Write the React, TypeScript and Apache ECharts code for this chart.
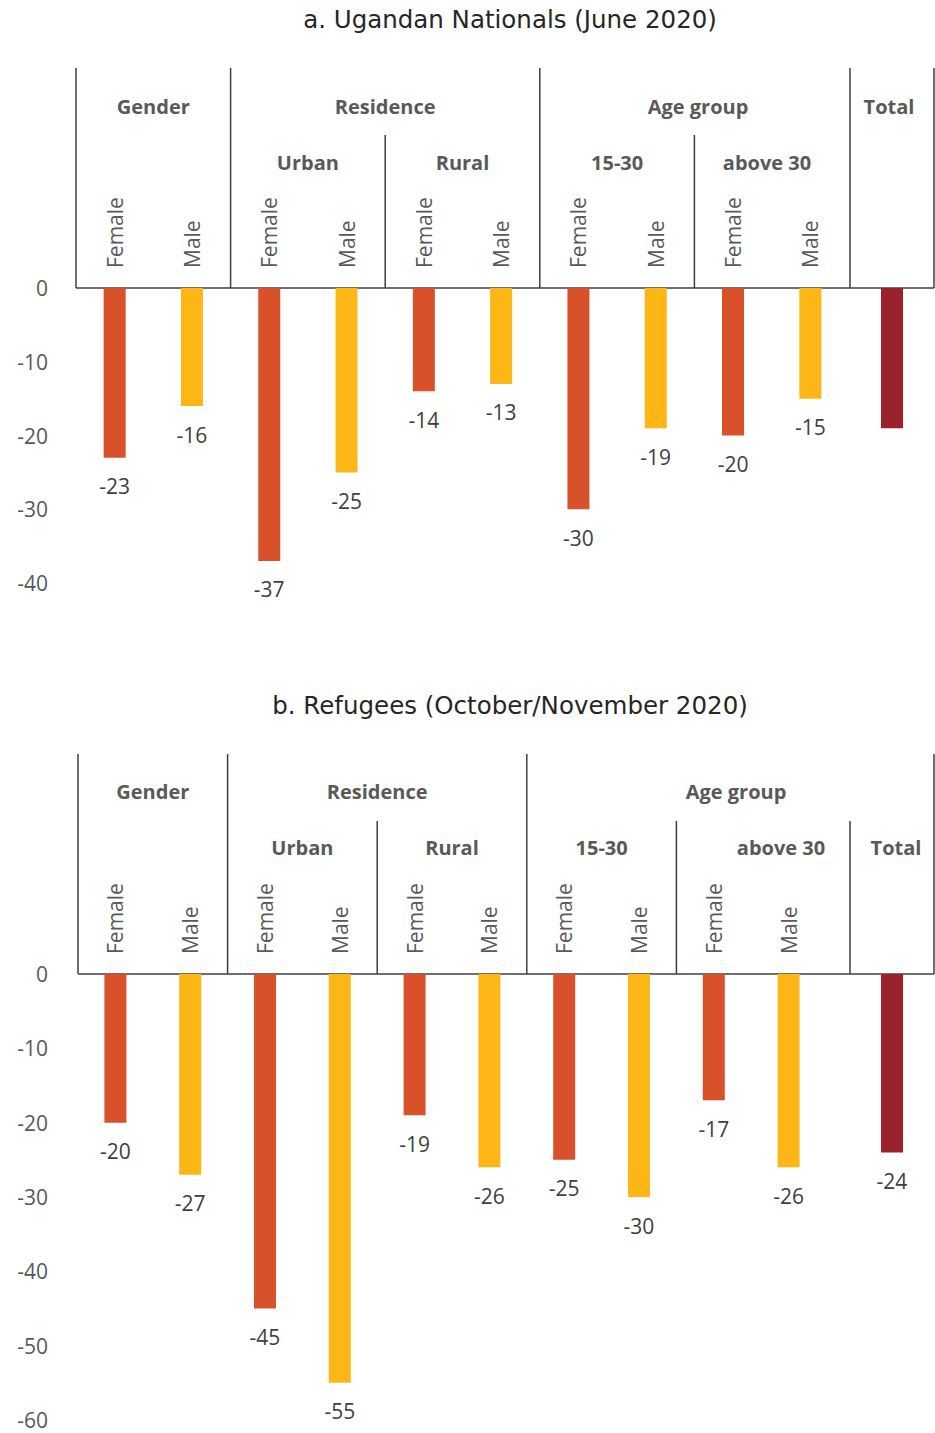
import React, { useEffect, useRef } from "react";
import * as echarts from "echarts";

// Percentage-point changes by sub-group (Female / Male pairs), plus the overall total.
const categoriesA = ["Female", "Male", "Female", "Male", "Female", "Male", "Female", "Male", "Female", "Male"];
const valuesA = [-23, -16, -37, -25, -14, -13, -30, -19, -20, -15];
const totalA = -19;
const ticksA = [0, -10, -20, -30, -40];

const categoriesB = ["Female", "Male", "Female", "Male", "Female", "Male", "Female", "Male", "Female", "Male"];
const valuesB = [-20, -27, -45, -55, -19, -26, -25, -30, -17, -26];
const totalB = -24;
const ticksB = [0, -10, -20, -30, -40, -50, -60];

const titleA = "a. Ugandan Nationals (June 2020)";
const titleB = "b. Refugees (October/November 2020)";
const groupsA = ["Gender", "Residence", "Age group", "Total"];
const subGroupsA = ["Urban", "Rural", "15-30", "above 30"];
const groupsB = ["Gender", "Residence", "Age group"];
const subGroupsB = ["Urban", "Rural", "15-30", "above 30", "Total"];

const FEMALE = "#D9512B";
const MALE = "#FCB616";
const TOTAL = "#9A222B";
const AXIS_TEXT = "#595959";
const LABEL_TEXT = "#404040";
const LINE = "#3f3f3f";
const FONT = "'Open Sans', Roboto, sans-serif";
const TITLE_FONT = "'DejaVu Sans', 'Open Sans', sans-serif";

type Panel = {
  cats: string[];
  values: number[];
  total: number;
  ticks: number[];
  showTotalLabel: boolean;
  left: number;
  slot: number;
  totalLeft: number;
  right: number;
  zeroY: number;
  bottomY: number;
  headTop: number;
  subTop: number;
};

const panelA: Panel = {
  cats: categoriesA, values: valuesA, total: totalA, ticks: ticksA, showTotalLabel: false,
  left: 76, slot: 77.3, totalLeft: 850, right: 934, zeroY: 288, bottomY: 583, headTop: 68, subTop: 135,
};
const panelB: Panel = {
  cats: categoriesB, values: valuesB, total: totalB, ticks: ticksB, showTotalLabel: true,
  left: 78, slot: 74.8, totalLeft: 850, right: 934, zeroY: 974, bottomY: 1420, headTop: 754, subTop: 821,
};

function headerText(text: string, x: number, y: number) {
  return {
    type: "text", x, y, silent: true,
    style: { text, fill: AXIS_TEXT, font: `bold 20px ${FONT}`, textAlign: "center", textVerticalAlign: "middle" },
  };
}
function vline(x: number, y1: number, y2: number) {
  return { type: "line", silent: true, shape: { x1: x, y1, x2: x, y2 }, style: { stroke: LINE, lineWidth: 1.5 } };
}
function hline(x1: number, x2: number, y: number) {
  return { type: "line", silent: true, shape: { x1, y1: y, x2, y2: y }, style: { stroke: LINE, lineWidth: 1.5 } };
}

export default function App() {
  const ref = useRef<HTMLDivElement>(null);

  useEffect(() => {
    if (!ref.current) return;
    const chart = echarts.init(ref.current, undefined, { renderer: "svg" });

    const panels = [panelA, panelB];
    const grid: any[] = [];
    const xAxis: any[] = [];
    const yAxis: any[] = [];
    const series: any[] = [];

    panels.forEach((p, pi) => {
      const height = p.bottomY - p.zeroY;
      const min = Math.min(...p.ticks);
      const max = Math.max(...p.ticks);
      // main grid holding the ten sub-group bars
      grid.push({ left: p.left, top: p.zeroY, width: p.slot * p.cats.length, height });
      // narrow grid for the total bar
      grid.push({ left: p.totalLeft, top: p.zeroY, width: p.right - p.totalLeft, height });

      const gMain = pi * 2;
      const gTot = pi * 2 + 1;

      xAxis.push({
        type: "category", gridIndex: gMain, position: "top", data: p.cats,
        axisLine: { show: false }, axisTick: { show: false },
        axisLabel: { rotate: 90, margin: 20, fontSize: 21, color: AXIS_TEXT, fontFamily: FONT, interval: 0 },
      });
      xAxis.push({
        type: "category", gridIndex: gTot, position: "top", data: ["Total"],
        axisLine: { show: false }, axisTick: { show: false }, axisLabel: { show: false },
      });
      yAxis.push({
        type: "value", gridIndex: gMain, min, max, interval: 10,
        axisLine: { show: false }, axisTick: { show: false }, splitLine: { show: false },
        axisLabel: { fontSize: 21, color: AXIS_TEXT, fontFamily: FONT, margin: p.left - 48 },
      });
      yAxis.push({
        type: "value", gridIndex: gTot, min, max, interval: 10,
        axisLine: { show: false }, axisTick: { show: false }, splitLine: { show: false },
        axisLabel: { show: false },
      });

      const label = {
        show: true, position: "bottom", distance: 18, fontSize: 21, color: LABEL_TEXT, fontFamily: FONT,
      };
      series.push({
        type: "bar", xAxisIndex: gMain, yAxisIndex: gMain, barWidth: 22,
        data: p.values.map((v, i) => ({ value: v, itemStyle: { color: i % 2 === 0 ? FEMALE : MALE } })),
        label,
      });
      series.push({
        type: "bar", xAxisIndex: gTot, yAxisIndex: gTot, barWidth: 22,
        data: [{ value: p.total, itemStyle: { color: TOTAL } }],
        label: { ...label, show: p.showTotalLabel },
      });
    });

    const sA = panelA.slot, lA = panelA.left;
    const sB = panelB.slot, lB = panelB.left;

    const graphic: any[] = [
      // titles
      {
        type: "text", x: 510, y: 19, silent: true,
        style: { text: titleA, fill: "#262626", font: `24.5px ${TITLE_FONT}`, textAlign: "center", textVerticalAlign: "middle" },
      },
      {
        type: "text", x: 510, y: 705, silent: true,
        style: { text: titleB, fill: "#262626", font: `24.5px ${TITLE_FONT}`, textAlign: "center", textVerticalAlign: "middle" },
      },

      // panel a header frame
      hline(panelA.left, panelA.right, panelA.zeroY),
      vline(lA, panelA.headTop, panelA.zeroY),
      vline(lA + 2 * sA, panelA.headTop, panelA.zeroY),
      vline(lA + 4 * sA, panelA.subTop, panelA.zeroY),
      vline(lA + 6 * sA, panelA.headTop, panelA.zeroY),
      vline(lA + 8 * sA, panelA.subTop, panelA.zeroY),
      vline(panelA.totalLeft, panelA.headTop, panelA.zeroY),
      vline(panelA.right, panelA.headTop, panelA.zeroY),
      headerText(groupsA[0], lA + 1 * sA, 106),
      headerText(groupsA[1], lA + 4 * sA, 106),
      headerText(groupsA[2], 698, 106),
      headerText(groupsA[3], 889, 106),
      headerText(subGroupsA[0], lA + 3 * sA, 162),
      headerText(subGroupsA[1], lA + 5 * sA, 162),
      headerText(subGroupsA[2], lA + 7 * sA, 162),
      headerText(subGroupsA[3], 767, 162),

      // panel b header frame
      hline(panelB.left, panelB.right, panelB.zeroY),
      vline(lB, panelB.headTop, panelB.zeroY),
      vline(lB + 2 * sB, panelB.headTop, panelB.zeroY),
      vline(lB + 4 * sB, panelB.subTop, panelB.zeroY),
      vline(lB + 6 * sB, panelB.headTop, panelB.zeroY),
      vline(lB + 8 * sB, panelB.subTop, panelB.zeroY),
      vline(panelB.totalLeft, panelB.subTop, panelB.zeroY),
      vline(panelB.right, panelB.headTop, panelB.zeroY),
      headerText(groupsB[0], lB + 1 * sB, 791),
      headerText(groupsB[1], lB + 4 * sB, 791),
      headerText(groupsB[2], 736, 791),
      headerText(subGroupsB[0], lB + 3 * sB, 847),
      headerText(subGroupsB[1], lB + 5 * sB, 847),
      headerText(subGroupsB[2], lB + 7 * sB, 847),
      headerText(subGroupsB[3], 781, 847),
      headerText(subGroupsB[4], 896, 847),
    ];

    chart.setOption({
      animation: false,
      backgroundColor: "#ffffff",
      textStyle: { fontFamily: FONT },
      grid, xAxis, yAxis, series, graphic,
    });

    return () => chart.dispose();
  }, []);

  return (
    <div
      ref={ref}
      style={{ position: "absolute", left: 0, top: 0, width: 935, height: 1433 }}
    />
  );
}
